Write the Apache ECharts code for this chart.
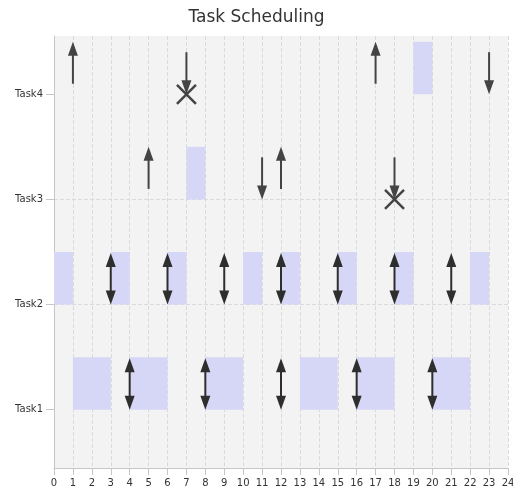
<!DOCTYPE html>
<html><head><meta charset="utf-8">
<script src="https://cdn.jsdelivr.net/npm/echarts@6/dist/echarts.min.js"></script>
<style>html,body{margin:0;padding:0;background:#fff}#c{width:513px;height:493px}</style>
</head><body><div id="c"></div>
<script>
// ---- data ----
const taskNames = ['Task1', 'Task2', 'Task3', 'Task4'];
const timeMin = 0;
const timeMax = 24;
// execution intervals [start, end]
const task1Exec = [[1, 3], [4, 6], [8, 10], [13, 15], [16, 18], [20, 22]];
const task2Exec = [[0, 1], [3, 4], [6, 7], [10, 11], [12, 13], [15, 16], [18, 19], [22, 23]];
const task3Exec = [[7, 8]];
const task4Exec = [[19, 20]];
// period boundaries (double arrows)
const task1Period = [4, 8, 12, 16, 20];
const task2Period = [3, 6, 9, 12, 15, 18, 21];
// releases (up arrows)
const task3Release = [5, 12];
const task4Release = [1, 17];
// deadlines (down arrows)
const task3Deadline = [11];
const task4Deadline = [23];
// missed deadlines (down arrow + cross)
const task3Miss = [18];
const task4Miss = [7];

// ---- build series data ----
const execByTask = [task1Exec, task2Exec, task3Exec, task4Exec];
const execData = [];
execByTask.forEach((list, i) => list.forEach(([s, e]) => execData.push([s, e, i + 1])));

const KIND_UP = 0, KIND_DOWN = 1, KIND_BOTH = 2, KIND_MISS = 3;
const markerData = [];
const addMarks = (list, task, kind) => list.forEach(x => markerData.push([x, task, kind]));
addMarks(task1Period, 1, KIND_BOTH);
addMarks(task2Period, 2, KIND_BOTH);
addMarks(task3Release, 3, KIND_UP);
addMarks(task4Release, 4, KIND_UP);
addMarks(task3Deadline, 3, KIND_DOWN);
addMarks(task4Deadline, 4, KIND_DOWN);
addMarks(task3Miss, 3, KIND_MISS);
addMarks(task4Miss, 4, KIND_MISS);

const taskTicks = taskNames.map((_, i) => i + 1);

const HEAD_L = 14, HEAD_W = 5;
function head(tip, dir, color) {
  // dir = -1 pointing up, +1 pointing down
  return {
    type: 'polygon',
    shape: { points: [[tip[0], tip[1]], [tip[0] - HEAD_W, tip[1] - dir * HEAD_L], [tip[0] + HEAD_W, tip[1] - dir * HEAD_L]] },
    style: { fill: color }
  };
}
function shaft(a, b, color) {
  return { type: 'line', shape: { x1: a[0], y1: a[1], x2: b[0], y2: b[1] }, style: { stroke: color, lineWidth: 2 } };
}

const chart = echarts.init(document.getElementById('c'), null, { renderer: 'canvas' });
chart.setOption({
  animation: false,
  title: {
    text: 'Task Scheduling', left: 'center', top: 4,
    textStyle: { fontFamily: 'DejaVu Sans', fontSize: 17, fontWeight: 'normal', color: '#333' }
  },
  grid: { left: 54, right: 5, top: 36, bottom: 25, outerBoundsMode: 'none', containLabel: false, show: true, backgroundColor: '#f3f3f3', borderWidth: 0 },
  xAxis: {
    type: 'value', min: timeMin, max: timeMax, interval: 1,
    axisLine: { show: true, lineStyle: { color: '#c6c6c6' } },
    axisTick: { show: true, length: 7, lineStyle: { color: '#c6c6c6' } },
    axisLabel: { fontFamily: 'DejaVu Sans', fontSize: 10, color: '#333', margin: 10 },
    splitLine: { show: true, lineStyle: { type: 'dashed', color: '#dadada' } }
  },
  yAxis: {
    type: 'value', min: 0.446, max: 4.554, interval: 1,
    axisLine: { show: true, lineStyle: { color: '#c6c6c6' } },
    axisTick: { show: true, length: 8, customValues: taskTicks, lineStyle: { color: '#c6c6c6' } },
    axisLabel: {
      customValues: taskTicks, fontFamily: 'DejaVu Sans', fontSize: 10, color: '#333', margin: 11,
      formatter: v => taskNames[Math.round(v) - 1] || ''
    },
    splitLine: { show: true, showMinLine: false, showMaxLine: false, lineStyle: { type: 'dashed', color: '#dadada' } }
  },
  series: [
    {
      type: 'custom', data: execData, encode: { x: [0, 1], y: 2 },
      renderItem(params, api) {
        const p0 = api.coord([api.value(0), api.value(2)]);
        const p1 = api.coord([api.value(1), api.value(2) + 0.5]);
        return { type: 'rect', shape: { x: p0[0], y: p1[1], width: p1[0] - p0[0], height: p0[1] - p1[1] }, style: { fill: '#d6d6f6' } };
      }
    },
    {
      type: 'custom', data: markerData, encode: { x: 0, y: 1 },
      renderItem(params, api) {
        const x = api.value(0), t = api.value(1), kind = api.value(2);
        const c1 = '#444';
        if (kind === KIND_UP) {
          const tail = api.coord([x, t + 0.1]), tip = api.coord([x, t + 0.5]);
          return { type: 'group', children: [shaft(tail, [tip[0], tip[1] + HEAD_L - 2], c1), head(tip, -1, c1)] };
        }
        if (kind === KIND_DOWN || kind === KIND_MISS) {
          const tail = api.coord([x, t + 0.4]), tip = api.coord([x, t]);
          const ch = [shaft(tail, [tip[0], tip[1] - HEAD_L + 2], c1), head(tip, 1, c1)];
          if (kind === KIND_MISS) {
            const r = 9.5;
            ch.push({ type: 'line', shape: { x1: tip[0] - r, y1: tip[1] - r, x2: tip[0] + r, y2: tip[1] + r }, style: { stroke: c1, lineWidth: 2.5 } });
            ch.push({ type: 'line', shape: { x1: tip[0] - r, y1: tip[1] + r, x2: tip[0] + r, y2: tip[1] - r }, style: { stroke: c1, lineWidth: 2.5 } });
          }
          return { type: 'group', children: ch };
        }
        const c2 = '#2e2e2e';
        const bot = api.coord([x, t]), top = api.coord([x, t + 0.49]);
        return { type: 'group', children: [shaft([top[0], top[1] + HEAD_L - 2], [bot[0], bot[1] - HEAD_L + 2], c2), head(top, -1, c2), head(bot, 1, c2)] };
      }
    }
  ]
});
</script>
</body></html>
